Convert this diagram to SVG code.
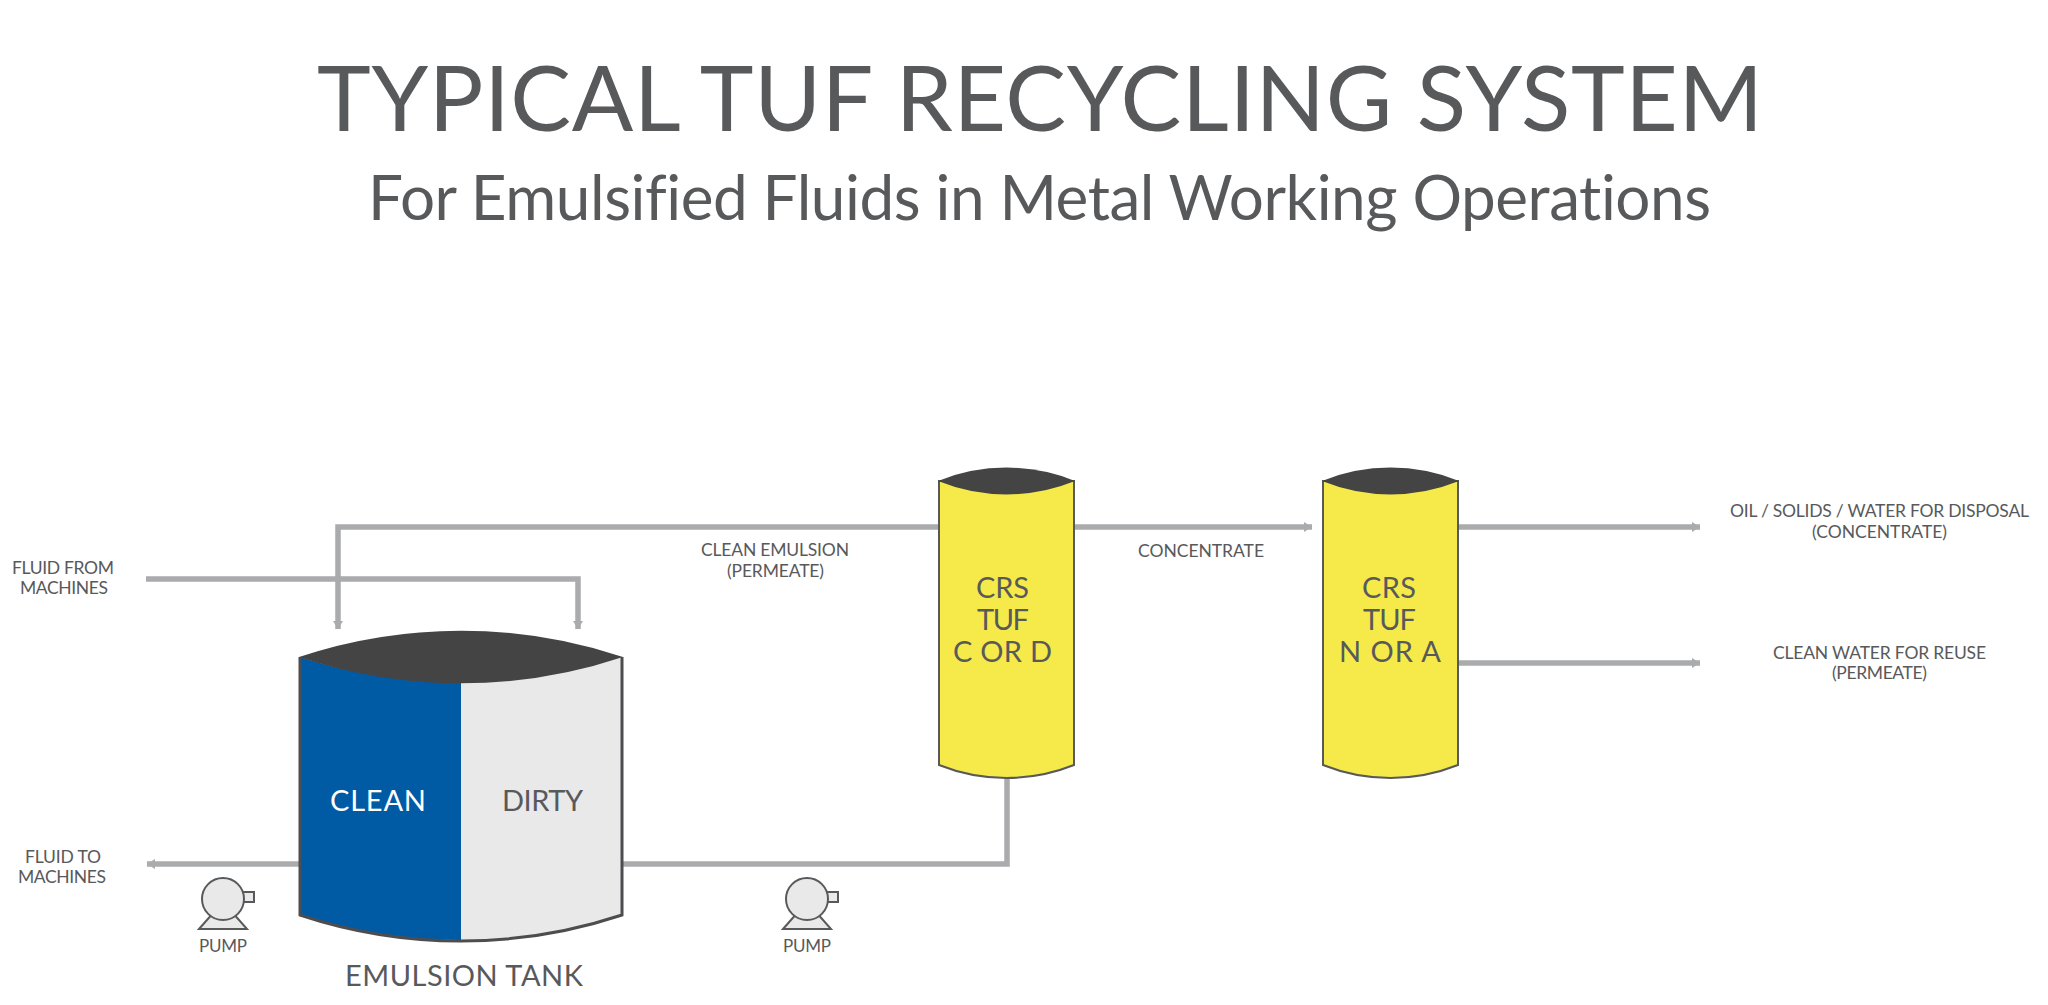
<svg xmlns="http://www.w3.org/2000/svg" width="2048" height="1005" viewBox="0 0 2048 1005">
<style>
text{font-family:"Lato","Open Sans","Liberation Sans",sans-serif;fill:#58595b;font-variant-ligatures:none}
.s{font-size:17.5px}.m{font-size:29px}.p{font-size:17px}
.pipe{fill:none;stroke:#aaabad;stroke-width:5.500}
.end{marker-end:url(#ah)}
.cap{fill:#444445}
.col{fill:#f5ea4a;stroke:#58595b;stroke-width:2}
.pm{fill:#e9e9ea;stroke:#58595b;stroke-width:2}
</style>
<defs>
<marker id="ah" markerUnits="userSpaceOnUse" markerWidth="10" markerHeight="12" refX="8" refY="6" orient="auto"><path d="M0 1L8 6L0 11Z" fill="#aaabad"/></marker>
<g id="pump-shape">
<path class="pm" d="M-24 30L-9 13H9L24 30Z"/>
<path class="pm" d="M18 -7H31V3H18Z"/>
<circle class="pm" cx="0" cy="0" r="21"/>
</g>
</defs>
<rect width="2048" height="1005" fill="#fff"/>
<g id="title">
<text x="317" y="131" font-size="91" textLength="1446">TYPICAL TUF RECYCLING SYSTEM</text>
<text x="368" y="220" font-size="62" textLength="1343">For Emulsified Fluids in Metal Working Operations</text>
</g>
<g id="connectors">
<path class="pipe end" d="M939 527H338V629"/>
<path class="pipe end" d="M146 579H578V629"/>
<path class="pipe end" d="M300 864H147"/>
<path class="pipe" d="M622 864H1007V775"/>
<path class="pipe end" d="M1074 527H1312"/>
<path class="pipe end" d="M1457 527H1700"/>
<path class="pipe end" d="M1457 663H1700"/>
</g>
<g id="emulsion-tank">
<path d="M461 682A511.500 511.500 0 0 1 300 657V915A511.500 511.500 0 0 0 461 940Z" fill="#005ba4"/>
<path d="M461 682A511.500 511.500 0 0 0 622 657V915A511.500 511.500 0 0 1 461 940Z" fill="#e9e9ea"/>
<path d="M300 657V915A511.500 511.500 0 0 0 622 915V657" fill="none" stroke="#4d4d4f" stroke-width="3"/>
<path class="cap" d="M299 657A511.500 511.500 0 0 1 623 657A511.500 511.500 0 0 1 299 657Z"/>
<text class="m" style="fill:#fff" x="330" y="811" textLength="96">CLEAN</text>
<text class="m" x="502" y="811" textLength="81">DIRTY</text>
<text class="m" x="345" y="986" textLength="238">EMULSION TANK</text>
</g>
<g id="tuf-c-or-d">
<path class="col" d="M939 481V765A182 182 0 0 0 1074 765V481Z"/>
<path class="cap" d="M938 481A182 182 0 0 1 1075 481A182 182 0 0 1 938 481Z"/>
<text class="m" x="976" y="598" textLength="53">CRS</text>
<text class="m" x="977" y="630" textLength="52">TUF</text>
<text class="m" x="953" y="662" textLength="99">C OR D</text>
</g>
<g id="tuf-n-or-a">
<path class="col" d="M1323 481V765A182 182 0 0 0 1458 765V481Z"/>
<path class="cap" d="M1322 481A182 182 0 0 1 1459 481A182 182 0 0 1 1322 481Z"/>
<text class="m" x="1362" y="598" textLength="54">CRS</text>
<text class="m" x="1363" y="630" textLength="53">TUF</text>
<text class="m" x="1339" y="662" textLength="102">N OR A</text>
</g>
<g id="pump-left">
<use href="#pump-shape" x="223" y="899"/>
<text class="p" x="199" y="952" textLength="48">PUMP</text>
</g>
<g id="pump-right">
<use href="#pump-shape" x="807" y="899"/>
<text class="p" x="783" y="952" textLength="48">PUMP</text>
</g>
<g id="labels">
<text class="s" x="12" y="574" textLength="102">FLUID FROM</text>
<text class="s" x="20" y="594" textLength="88">MACHINES</text>
<text class="s" x="25" y="863" textLength="76">FLUID TO</text>
<text class="s" x="18" y="883" textLength="88">MACHINES</text>
<text class="s" x="701" y="556" textLength="148">CLEAN EMULSION</text>
<text class="s" x="727" y="577" textLength="97">(PERMEATE)</text>
<text class="s" x="1138" y="557" textLength="126">CONCENTRATE</text>
<text class="s" x="1730" y="517" textLength="299">OIL / SOLIDS / WATER FOR DISPOSAL</text>
<text class="s" x="1812" y="538" textLength="135">(CONCENTRATE)</text>
<text class="s" x="1773" y="659" textLength="213">CLEAN WATER FOR REUSE</text>
<text class="s" x="1832" y="679" textLength="95">(PERMEATE)</text>
</g>
</svg>
